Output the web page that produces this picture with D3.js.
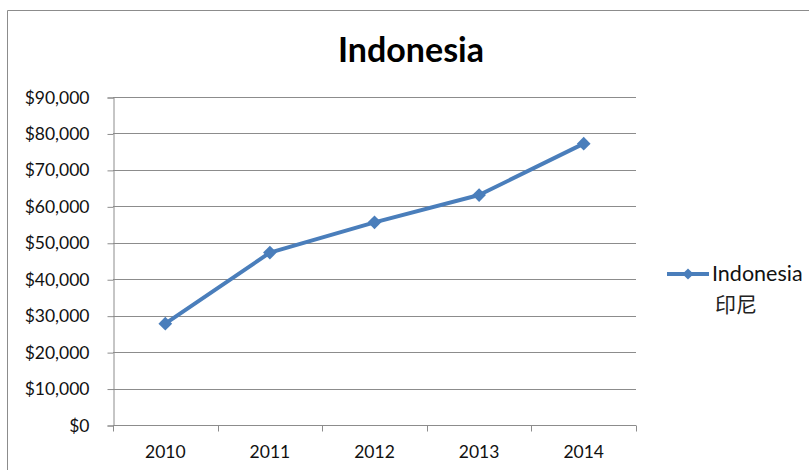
<!DOCTYPE html>
<html><head><meta charset="utf-8">
<script src="https://cdn.jsdelivr.net/npm/d3@7/dist/d3.min.js"></script>
<style>body{margin:0;background:#fff;}svg{display:block;}</style>
</head><body>
<svg id="c" width="809" height="470"></svg>
<script>
const title = "Indonesia";
const years = ["2010","2011","2012","2013","2014"];
const values = [27800, 47300, 55600, 63100, 77200];
const yTicks = [0,10000,20000,30000,40000,50000,60000,70000,80000,90000];
const legendLabel = ["Indonesia", "印尼"];

(function(){
const svg = d3.select("#c");
const font = "Lato, 'Open Sans', sans-serif";
const pLeft = 113, pRight = 636, pTop = 97, pBottom = 425;
const x = d3.scaleBand().domain(years).range([pLeft, pRight]);
const y = d3.scaleLinear().domain([0, 90000]).range([pBottom, pTop]);
const gridC = "#8c8c8c";

// border
svg.append("path").attr("d", "M7.5,470 V10.5 H809").attr("fill","none").attr("stroke","#8c8c8c").attr("stroke-width",1);

// title
svg.append("text").attr("x", 411).attr("y", 62).attr("text-anchor","middle")
  .attr("font-family", font).attr("font-weight","bold").attr("font-size", 34).attr("fill","#000").text(title);

// gridlines
svg.append("g").selectAll("line").data(yTicks.slice(1)).join("line")
  .attr("x1", pLeft).attr("x2", pRight).attr("y1", d => Math.round(y(d))+0.5).attr("y2", d => Math.round(y(d))+0.5)
  .attr("stroke", gridC).attr("stroke-width", 1);

// y axis
const yAxis = d3.axisLeft(y).tickValues(yTicks).tickSize(6).tickPadding(18)
  .tickFormat(d => "$" + d3.format(",")(d));
const gy = svg.append("g").attr("transform", `translate(${pLeft+0.5},0.5)`).call(yAxis);
gy.select(".domain").attr("stroke", gridC);
gy.selectAll(".tick line").attr("stroke", gridC);
gy.selectAll(".tick text").attr("font-family", font).attr("font-size", 17.5).attr("fill","#111");

// x axis
const xAxis = d3.axisBottom(x).tickSize(0).tickPadding(20);
const gx = svg.append("g").attr("transform", `translate(0,${pBottom+0.5})`).call(xAxis);
gx.select(".domain").attr("stroke", gridC).attr("d", `M${pLeft},0H${pRight}`);
gx.selectAll(".tick text").attr("font-family", font).attr("font-size", 17.5).attr("fill","#111");
const bounds = years.map(d => x(d)).concat([pRight]);
gx.append("g").selectAll("line").data(bounds).join("line")
  .attr("x1", d => Math.round(d)+0.5).attr("x2", d => Math.round(d)+0.5).attr("y1", 0).attr("y2", 6)
  .attr("stroke", gridC);

// line
const cx = d => x(d) + x.bandwidth()/2;
const line = d3.line().x((d,i) => cx(years[i])).y(d => y(d));
const blue = "#4a7ebb";
svg.append("path").datum(values).attr("d", line).attr("fill","none").attr("stroke", blue)
  .attr("stroke-width", 4).attr("stroke-linejoin","round").attr("stroke-linecap","round");
const diamond = d3.symbol().type(d3.symbolDiamond2).size(120);
svg.append("g").selectAll("path").data(values).join("path")
  .attr("d", diamond).attr("transform", (d,i) => `translate(${cx(years[i])},${y(d)})`).attr("fill", blue);

// legend
const lg = svg.append("g");
lg.append("line").attr("x1", 667).attr("x2", 709).attr("y1", 274).attr("y2", 274).attr("stroke", blue).attr("stroke-width", 4);
lg.append("path").attr("d", d3.symbol().type(d3.symbolDiamond2).size(80)).attr("transform","translate(688,274)").attr("fill", blue);
lg.append("text").attr("x", 712).attr("y", 281).attr("font-family", font).attr("font-size", 21.5).attr("fill","#111").text(legendLabel[0]);
lg.append("text").attr("x", 715).attr("y", 312).attr("font-family", "'Noto Sans CJK SC', sans-serif").attr("font-size", 21).attr("fill","#222").text(legendLabel[1]);
})();
</script>
</body></html>
